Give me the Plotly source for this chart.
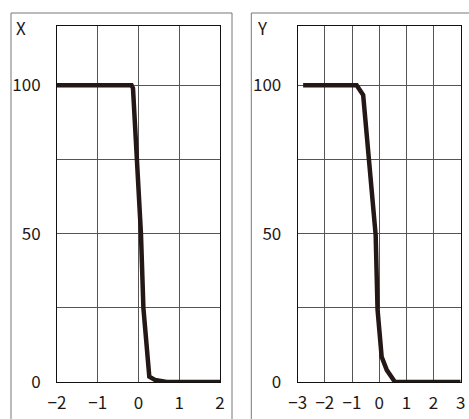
import plotly.graph_objects as go

W, H = 469, 419

# Data
x_left = [-2, -0.17, -0.135, 0.06, 0.12, 0.265, 0.405, 0.69, 2]
y_left = [100, 100, 99, 50, 25, 1.8, 0.7, 0, 0]
x_right = [-2.8, -0.83, -0.59, -0.38, -0.22, -0.13, -0.06, 0.09, 0.28, 0.58, 3]
y_right = [100, 100, 96.7, 76.5, 58.6, 49.5, 24.3, 8.5, 4.0, 0, 0]
y_ticks = [0, 25, 50, 75, 100]
y_tick_text = ["0", "", "50", "", "100"]
x_ticks_left = [-2, -1, 0, 1, 2]
x_ticks_right = [-3, -2, -1, 0, 1, 2, 3]
titles = ["X", "Y"]

FONT = "Noto Sans CJK JP"
LINE = "#231815"

def px(x):
    return x / W

def py(y):
    return (H - y) / H

fig = go.Figure()
fig.add_trace(go.Scatter(x=x_left, y=y_left, mode="lines", line=dict(color=LINE, width=4.5),
                         cliponaxis=False, xaxis="x", yaxis="y", showlegend=False, hoverinfo="skip"))
fig.add_trace(go.Scatter(x=x_right, y=y_right, mode="lines", line=dict(color=LINE, width=4.5),
                         cliponaxis=False, xaxis="x2", yaxis="y2", showlegend=False, hoverinfo="skip"))

axis_common = dict(showline=True, mirror=True, linecolor="#111", linewidth=1,
                   showgrid=True, gridcolor="#555", gridwidth=1, zeroline=False,
                   automargin=False,
                   ticks="", tickfont=dict(family=FONT, size=17, color="#231815"))

fig.update_layout(
    width=W, height=H, margin=dict(l=0, r=0, t=0, b=0),
    paper_bgcolor="white", plot_bgcolor="white",
    xaxis=dict(domain=[px(57), px(220)], range=[-2, 2], tickvals=x_ticks_left,
               anchor="y", ticklabelstandoff=6, **axis_common),
    yaxis=dict(domain=[py(382), py(26)], range=[0, 120], tickvals=y_ticks, ticktext=y_tick_text,
               anchor="x", ticklabelstandoff=12, **axis_common),
    xaxis2=dict(domain=[px(297.7), px(460.7)], range=[-3, 3], tickvals=x_ticks_right,
                anchor="y2", ticklabelstandoff=6, **axis_common),
    yaxis2=dict(domain=[py(382), py(26)], range=[0, 120], tickvals=y_ticks, ticktext=y_tick_text,
                anchor="x2", ticklabelstandoff=12, **axis_common),
    shapes=[
        dict(type="rect", xref="paper", yref="paper", x0=px(11), x1=px(232), y0=-0.05, y1=py(13),
             line=dict(color="#777", width=1), layer="below"),
        dict(type="rect", xref="paper", yref="paper", x0=px(251.3), x1=1.05, y0=-0.05, y1=py(13),
             line=dict(color="#777", width=1), layer="below"),
    ],
    annotations=[
        dict(text=titles[0], xref="paper", yref="paper", x=px(14), y=py(27), xanchor="left",
             yanchor="middle", showarrow=False, font=dict(family=FONT, size=17, color="#231815")),
        dict(text=titles[1], xref="paper", yref="paper", x=px(255), y=py(27), xanchor="left",
             yanchor="middle", showarrow=False, font=dict(family=FONT, size=17, color="#231815")),
    ],
)

fig.write_html("out.html", config={"displayModeBar": False},
               post_script="document.body.style.margin='0';document.body.style.overflow='hidden';")
